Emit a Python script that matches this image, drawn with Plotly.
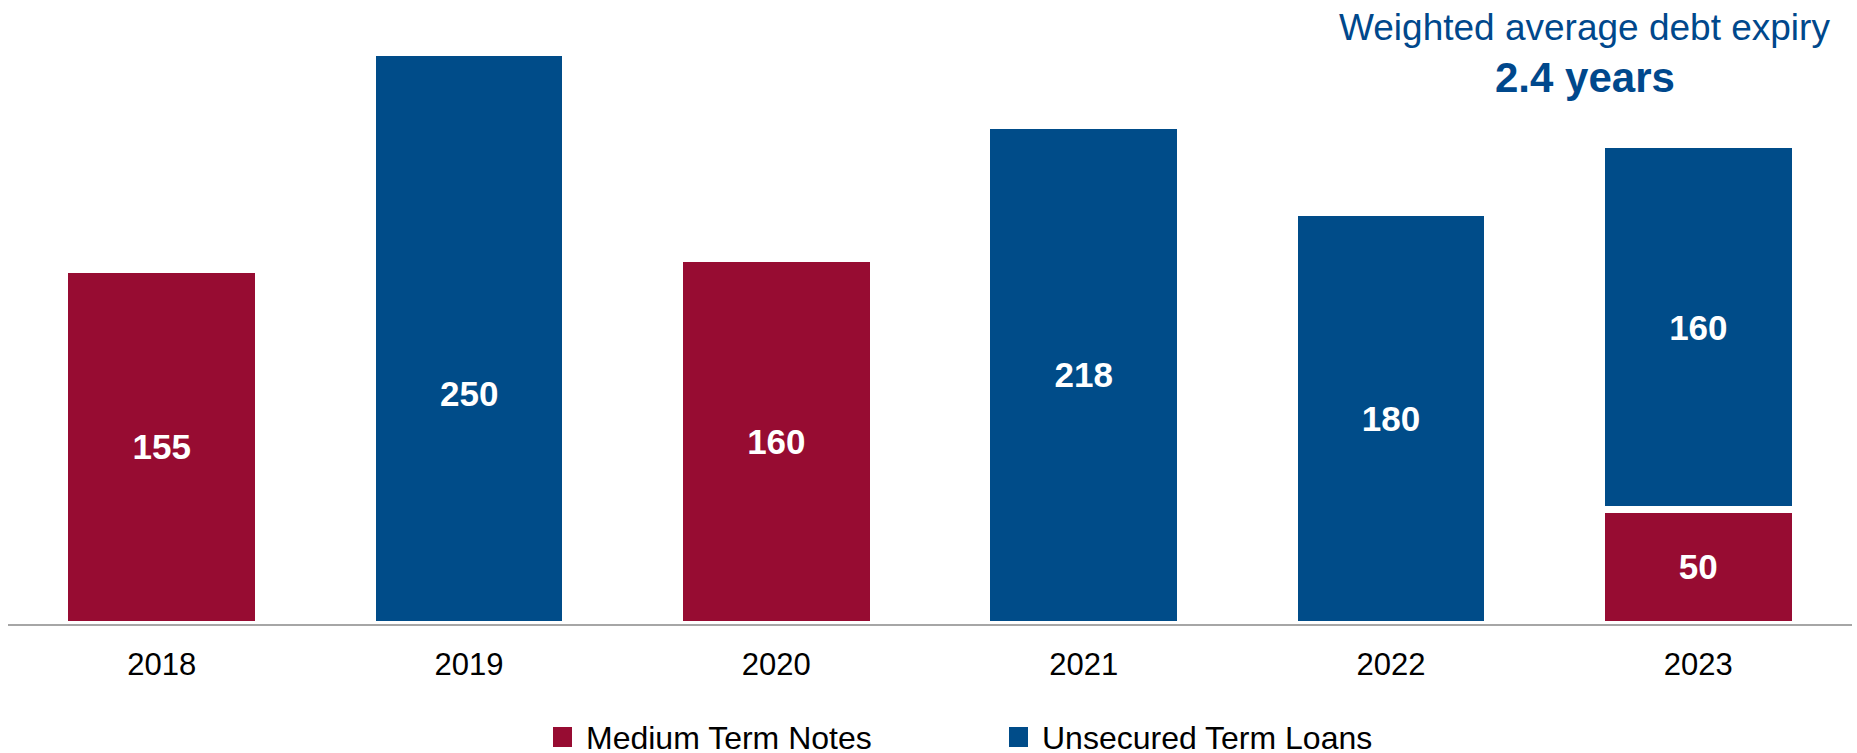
import plotly.graph_objects as go

# Debt maturity profile by year ($m)
years = ["2018", "2019", "2020", "2021", "2022", "2023"]
medium_term_notes = [155, None, 160, None, None, 50]
unsecured_term_loans = [None, 250, None, 218, 180, 160]

series_names = ["Medium Term Notes", "Unsecured Term Loans"]
headline = "Weighted average debt expiry"
headline_value = "2.4 years"

RED = "#970C32"
BLUE = "#004C89"
TITLE_BLUE = "#00488C"
FONT = "Arial, 'Liberation Sans', sans-serif"

W, H = 1857, 753
ML, MR, MT, MB = 8, 5, 30, 129
PW, PH = W - ML - MR, H - MT - MB
BAR_WIDTH = 0.63


def px_x(x):
    return (x - ML) / PW


def px_y(y):
    return (H - MB - y) / PH


fig = go.Figure()

fig.add_trace(go.Bar(
    x=years, y=medium_term_notes, name=series_names[0],
    marker=dict(color=RED, line=dict(color="white", width=7)),
    texttemplate="<b>%{y}</b>", textposition="inside",
    insidetextanchor="middle",
    textfont=dict(color="white", size=35, family=FONT),
    width=BAR_WIDTH,
))

# 2019 label is placed lower inside its bar via an annotation
i2019 = years.index("2019")
blue_textpos = ["none" if i == i2019 else "inside" for i in range(len(years))]
fig.add_trace(go.Bar(
    x=years, y=unsecured_term_loans, name=series_names[1],
    marker=dict(color=BLUE, line=dict(color="white", width=7)),
    texttemplate="<b>%{y}</b>", textposition=blue_textpos,
    insidetextanchor="middle",
    textfont=dict(color="white", size=35, family=FONT),
    width=BAR_WIDTH,
))

label_2019_y = 101
fig.add_annotation(
    x=i2019, y=label_2019_y, xref="x", yref="y",
    text="<b>%d</b>" % unsecured_term_loans[i2019],
    showarrow=False, xanchor="center", yanchor="middle",
    font=dict(color="white", size=35, family=FONT),
)

# Headline in the top-right corner
fig.add_annotation(
    x=px_x(1584), y=px_y(27), xref="paper", yref="paper",
    text=headline, showarrow=False, xanchor="center", yanchor="middle",
    font=dict(color=TITLE_BLUE, size=37, family=FONT),
)
fig.add_annotation(
    x=px_x(1585), y=px_y(77), xref="paper", yref="paper",
    text="<b>%s</b>" % headline_value, showarrow=False,
    xanchor="center", yanchor="middle",
    font=dict(color=TITLE_BLUE, size=42, family=FONT),
)

# Legend drawn as swatches + labels below the axis
legend_items = [(series_names[0], RED, 553), (series_names[1], BLUE, 1009)]
for name, color, x0 in legend_items:
    fig.add_shape(
        type="rect", xref="paper", yref="paper",
        x0=px_x(x0), x1=px_x(x0 + 19), y0=px_y(747), y1=px_y(727),
        fillcolor=color, line=dict(width=0),
    )
    fig.add_annotation(
        x=px_x(x0 + 31), y=px_y(738), xref="paper", yref="paper",
        text=name, showarrow=False, xanchor="left", yanchor="middle",
        font=dict(color="black", size=32, family=FONT),
    )

fig.update_layout(
    width=W, height=H, autosize=False,
    margin=dict(l=ML, r=MR, t=MT, b=MB, pad=0),
    barmode="stack", showlegend=False,
    plot_bgcolor="white", paper_bgcolor="white",
    font=dict(family=FONT),
)
fig.update_xaxes(
    type="category", range=[-0.5, 5.5],
    showline=True, linecolor="#A6A6A6", linewidth=2,
    ticks="", showgrid=False, ticklabelstandoff=12,
    tickfont=dict(size=31, color="black", family=FONT),
)
fig.update_yaxes(
    range=[0, 260], visible=False, showgrid=False, zeroline=False,
)

fig.write_html("out.html")
